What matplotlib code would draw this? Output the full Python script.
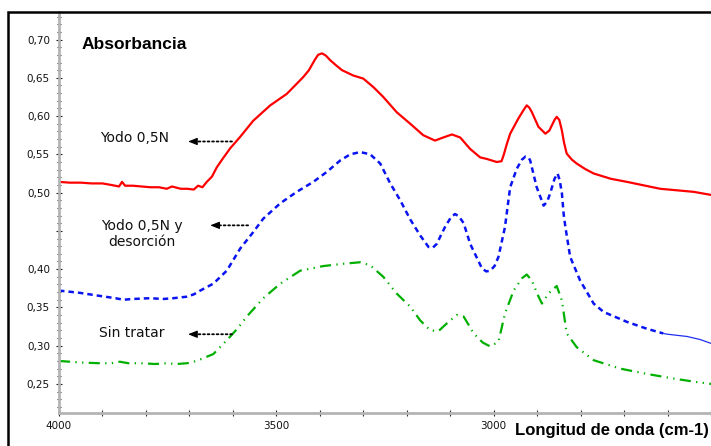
import matplotlib
matplotlib.use("Agg")
import matplotlib.pyplot as plt
from matplotlib.patches import Rectangle
from matplotlib.ticker import FixedLocator, MultipleLocator

# FTIR absorbance spectra (wavenumber in cm-1)
red_x = [4000, 3975, 3950, 3925, 3900, 3880, 3862, 3855, 3848, 3830, 3810, 3790,
         3770, 3752, 3740, 3720, 3705, 3690, 3680, 3670, 3660, 3648, 3637, 3625,
         3606, 3583, 3553, 3514, 3476, 3438, 3425, 3412, 3404, 3395, 3386, 3376,
         3362, 3349, 3323, 3300, 3277, 3254, 3223, 3192, 3162, 3135, 3116, 3096,
         3077, 3054, 3031, 3016, 2993, 2982, 2977, 2970, 2962, 2943, 2930, 2924,
         2918, 2912, 2897, 2881, 2872, 2866, 2860, 2855, 2849, 2843, 2838, 2832,
         2820, 2809, 2790, 2770, 2730, 2693, 2617, 2540, 2500]
red_y = [0.514, 0.513, 0.513, 0.512, 0.512, 0.510, 0.508, 0.514, 0.509, 0.509, 0.508, 0.507,
         0.507, 0.505, 0.508, 0.505, 0.505, 0.504, 0.509, 0.507, 0.514, 0.521, 0.533, 0.543,
         0.558, 0.573, 0.594, 0.614, 0.629, 0.651, 0.660, 0.673, 0.680, 0.682, 0.679, 0.673,
         0.666, 0.660, 0.653, 0.649, 0.638, 0.625, 0.605, 0.590, 0.575, 0.568, 0.572, 0.576,
         0.572, 0.557, 0.546, 0.544, 0.540, 0.541, 0.549, 0.563, 0.577, 0.597, 0.609, 0.614,
         0.611, 0.605, 0.586, 0.577, 0.581, 0.588, 0.595, 0.599, 0.595, 0.581, 0.565, 0.551,
         0.543, 0.538, 0.531, 0.525, 0.518, 0.514, 0.505, 0.501, 0.497]

blue_x = [4000, 3952, 3906, 3870, 3852, 3830, 3791, 3760, 3737, 3706, 3690, 3675,
          3645, 3614, 3583, 3555, 3530, 3491, 3453, 3415, 3384, 3353, 3330, 3307,
          3284, 3261, 3238, 3215, 3192, 3169, 3150, 3140, 3131, 3112, 3098, 3089,
          3080, 3069, 3054, 3027, 3017, 3008, 2998, 2989, 2974, 2966, 2962, 2947,
          2935, 2927, 2920, 2916, 2901, 2885, 2877, 2870, 2860, 2853, 2848, 2843,
          2839, 2835, 2824, 2801, 2770, 2747, 2693, 2647, 2610, 2601, 2555, 2525,
          2500]
blue_y = [0.372, 0.369, 0.365, 0.362, 0.360, 0.361, 0.362, 0.361, 0.362, 0.364, 0.367, 0.372,
          0.381, 0.398, 0.427, 0.447, 0.466, 0.486, 0.501, 0.514, 0.527, 0.542, 0.550, 0.553,
          0.550, 0.538, 0.512, 0.490, 0.465, 0.444, 0.429, 0.428, 0.433, 0.455, 0.468, 0.472,
          0.469, 0.460, 0.433, 0.401, 0.397, 0.398, 0.404, 0.416, 0.455, 0.490, 0.507, 0.531,
          0.543, 0.547, 0.546, 0.542, 0.507, 0.483, 0.488, 0.499, 0.518, 0.525, 0.516, 0.499,
          0.472, 0.455, 0.416, 0.385, 0.355, 0.344, 0.331, 0.322, 0.316, 0.315, 0.312, 0.308,
          0.303]

green_x = [4000, 3950, 3906, 3880, 3860, 3840, 3806, 3780, 3752, 3730, 3706, 3690,
           3675, 3645, 3614, 3590, 3568, 3530, 3491, 3445, 3392, 3346, 3307, 3284,
           3254, 3223, 3192, 3169, 3146, 3127, 3108, 3085, 3069, 3046, 3025, 3008,
           2989, 2974, 2954, 2935, 2924, 2912, 2900, 2889, 2874, 2855, 2843, 2832,
           2809, 2770, 2709, 2647, 2586, 2540, 2500]
green_y = [0.280, 0.278, 0.277, 0.277, 0.279, 0.277, 0.277, 0.276, 0.277, 0.276, 0.277, 0.279,
           0.282, 0.289, 0.307, 0.322, 0.338, 0.362, 0.381, 0.398, 0.404, 0.407, 0.409, 0.405,
           0.390, 0.368, 0.351, 0.333, 0.320, 0.319, 0.329, 0.340, 0.338, 0.316, 0.304, 0.299,
           0.305, 0.342, 0.372, 0.388, 0.393, 0.385, 0.368, 0.355, 0.368, 0.378, 0.359, 0.316,
           0.298, 0.281, 0.270, 0.263, 0.257, 0.253, 0.250]

y_ticks = [0.25, 0.30, 0.35, 0.40, 0.45, 0.50, 0.55, 0.60, 0.65, 0.70]
y_tick_labels = ["0,25", "0,30", "0,35", "0,40", "", "0,50", "0,55", "0,60", "0,65", "0,70"]
x_ticks = [4000, 3500, 3000]
x_tick_labels = ["4000", "3500", "3000"]

fig = plt.figure(figsize=(7.11, 4.46), dpi=100)
ax = fig.add_axes([59 / 711, 33 / 446, 652 / 711, 401 / 446])

ax.plot(red_x, red_y, color="#ff0000", lw=1.6, solid_capstyle="round",
        solid_joinstyle="round")

# blue trace is dashed until ~2610 cm-1, then a thin solid line
split = blue_x.index(2610)
ax.plot(blue_x[:split + 1], blue_y[:split + 1], color="#0a14f0", lw=1.8,
        dashes=(2.2, 1.6))
ax.plot(blue_x[split:], blue_y[split:], color="#2030f0", lw=0.9)

ax.plot(green_x, green_y, color="#00b000", lw=1.6,
        dashes=(5.0, 2.4, 0.6, 2.4, 0.6, 2.4))

ax.set_xlim(4000, 2500)
ax.set_ylim(0.212, 0.736)

ax.yaxis.set_major_locator(FixedLocator(y_ticks))
ax.set_yticklabels(y_tick_labels)
ax.yaxis.set_minor_locator(MultipleLocator(0.01))
ax.xaxis.set_major_locator(FixedLocator(x_ticks))
ax.set_xticklabels(x_tick_labels)
ax.xaxis.set_minor_locator(MultipleLocator(100))

ax.tick_params(axis="both", which="major", direction="inout", length=5, width=0.8,
               color="#202020", labelsize=7.5, labelcolor="#111111")
ax.tick_params(axis="y", which="minor", direction="inout", length=2.5, width=0.8,
               color="#303030")
ax.tick_params(axis="x", which="minor", direction="inout", length=5, width=0.8,
               color="#303030")
ax.tick_params(axis="y", which="major", pad=4)
ax.tick_params(axis="x", which="major", pad=3)

for side in ("top", "right"):
    ax.spines[side].set_visible(False)
for side in ("left", "bottom"):
    ax.spines[side].set_color("#b4b4b4")
    ax.spines[side].set_linewidth(2)

ax.text(3947, 0.693, "Absorbancia", fontsize=12.5, fontweight="bold",
        family="Liberation Sans", ha="left", va="center")

# labels with dotted pointer arrows (head on the left, x axis is reversed)
labels = [("Yodo 0,5N", 3827, 0.572, 3703, 3602, 0.5668),
          ("Yodo 0,5N y\ndesorción", 3810, 0.446, 3652, 3565, 0.4572),
          ("Sin tratar", 3833, 0.3162, 3703, 3602, 0.3149)]
for txt, tx, ty, head, tail, ay in labels:
    ax.text(tx, ty, txt, fontsize=10, ha="center", va="center",
            linespacing=1.12, color="#111111")
    ax.annotate("", xy=(head - 8, ay), xytext=(tail, ay),
                arrowprops=dict(arrowstyle="-", linestyle=(0, (1, 1.5)),
                                lw=1.3, color="black", shrinkA=0, shrinkB=0))
    ax.annotate("", xy=(head, ay), xytext=(head - 12, ay),
                arrowprops=dict(arrowstyle="-|>,head_length=0.55,head_width=0.22",
                                lw=0.8, color="black", shrinkA=0, shrinkB=0))

fig.text(709 / 711, 16 / 446, "Longitud de onda (cm-1)", fontsize=12,
         fontweight="bold", family="Liberation Sans", ha="right", va="center")

# outer frame around the plot
fig.patches.append(Rectangle((8 / 711, -0.1), 1.2, 434 / 446 + 0.1,
                             transform=fig.transFigure, fill=False,
                             lw=1.8, ec="black", zorder=10))

fig.savefig("out.png", dpi=100)
